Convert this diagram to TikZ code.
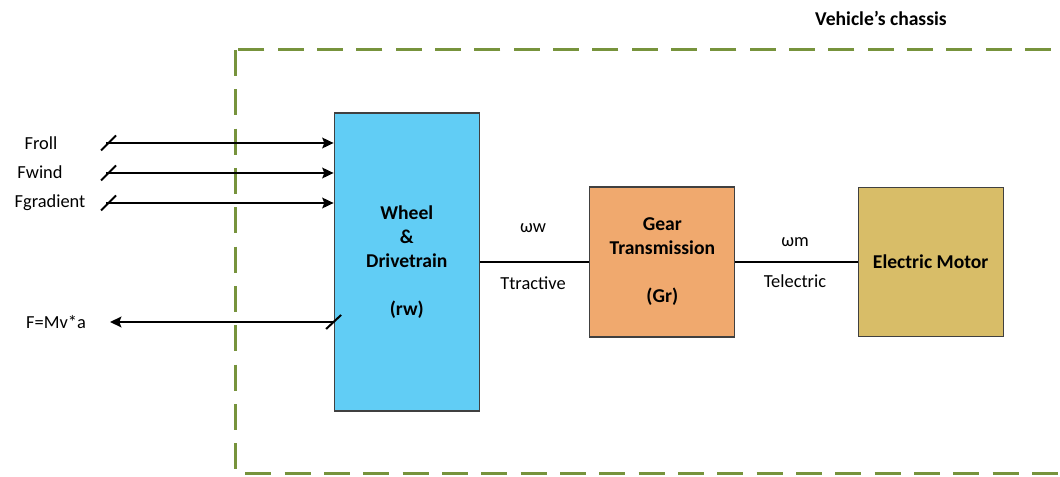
\documentclass[tikz,border=0pt]{standalone}
\usepackage{fontspec}
\setmainfont{Carlito}
\usetikzlibrary{arrows.meta}

\definecolor{wheelblue}{RGB}{97,205,245}
\definecolor{gearorange}{RGB}{240,169,110}
\definecolor{motorgold}{RGB}{216,189,104}
\definecolor{chassisgreen}{RGB}{119,147,60}
\definecolor{boxline}{RGB}{64,64,64}

\tikzset{
  block/.style={draw=boxline, line width=0.8pt, align=center, inner sep=0pt,
    font=\fontsize{14.7}{18}\selectfont\bfseries},
  force/.style={line width=1.5pt, -{Stealth[length=8.5pt,width=8pt,inset=1.5pt]}},
  label/.style={font=\fontsize{13.8}{16}\selectfont},
  slash/.style={line width=1.5pt},
  link/.style={line width=0.8pt}
}

\begin{document}
\begin{tikzpicture}[x=0.75pt,y=-0.75pt]
    \useasboundingbox (0,0) rectangle (1060,477);

    % chassis
    \draw[chassisgreen, line width=2.25pt, dash pattern=on 19.5pt off 10pt]
        (235.7,50) rectangle (1066,473);
    \node[font=\fontsize{14.7}{18}\selectfont\bfseries] (chassis) at (881,18) {Vehicle’s chassis};

    % blocks
    \node[block, fill=wheelblue, minimum width=109pt, minimum height=223.5pt] (wheel) at (406.8,262)
        {Wheel\\\&\\Drivetrain\\[18pt](rw)};
    \node[block, fill=gearorange, minimum width=108.7pt, minimum height=112.5pt] (gear) at (662.3,262)
        {Gear\\Transmission\\[18pt](Gr)};
    \node[block, fill=motorgold, minimum width=108.7pt, minimum height=111.7pt] (motor) at (930.7,262)
        {Electric Motor};

    \draw[link] (wheel) -- (gear);
    \draw[link] (gear) -- (motor);

    \node[label] (ww) at (533,228) {ωw};
    \node[label] (ttr) at (533,283) {Ttractive};
    \node[label] (wm) at (795,242) {ωm};
    \node[label] (tel) at (795,281) {Telectric};

    % forces on the wheel
    \node[label] (froll) at (41,143) {Froll};
    \node[label] (fwind) at (40,172.5) {Fwind};
    \node[label] (fgrad) at (50,202.5) {Fgradient};
    \node[label] (fout) at (56,322) {F=Mv*a};

    \coordinate (s1) at (106,143);
    \coordinate (s2) at (106,173);
    \coordinate (s3) at (106,203);
    \coordinate (e1) at (110,322);

    \foreach \s in {s1,s2,s3}{
        \draw[force] (\s) -- (\s -| wheel.west);
        \draw[slash] (\s) ++(-5,7.5) -- ++(15,-15);
    }
    \draw[force] (e1 -| wheel.west) -- (e1);
    \draw[slash] (e1 -| wheel.west) ++(-7.5,7) -- ++(15,-14);

\end{tikzpicture}
\end{document}
